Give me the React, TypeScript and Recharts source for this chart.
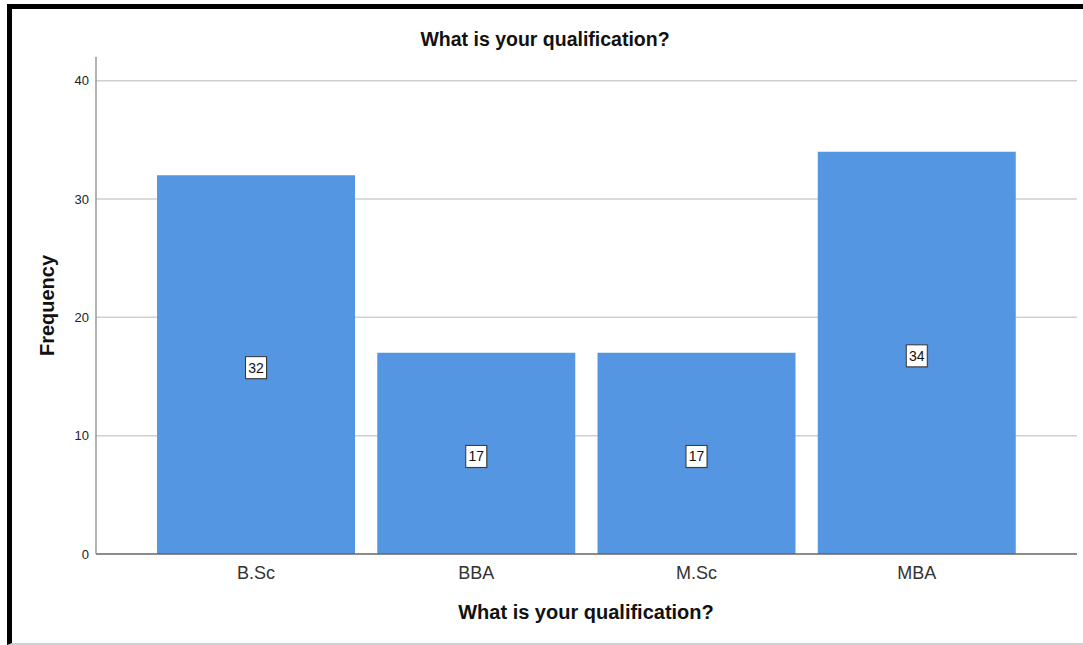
import React from 'react';
import { BarChart, Bar, XAxis, YAxis, CartesianGrid, LabelList } from 'recharts';

// Qualification frequency counts
const qualifications = ['B.Sc', 'BBA', 'M.Sc', 'MBA'];
const frequencies = [32, 17, 17, 34];
const yTicks = [0, 10, 20, 30, 40];

const data = qualifications.map((q, i) => ({ name: q, value: frequencies[i] }));

const FONT = '"Liberation Sans", Arial, sans-serif';
const BAR_COLOR = '#5596E3';

// White boxed count shown at the middle of each bar
const ValueBox = (props: any) => {
  const { x, y, width, height, value } = props;
  const cx = x + width / 2;
  const cy = y + height / 2 + 3;
  const w = 21;
  const h = 22;
  return (
    <g>
      <rect x={cx - w / 2 + 1} y={cy - h / 2 + 1} width={w} height={h} fill="#6a6a6a" opacity={0.5} />
      <rect x={cx - w / 2} y={cy - h / 2} width={w} height={h} fill="#ffffff" stroke="#333" strokeWidth={1} />
      <text x={cx} y={cy + 5} textAnchor="middle" fontSize={14} fontFamily={FONT} fill="#111">
        {value}
      </text>
    </g>
  );
};

const headingStyle: React.CSSProperties = {
  position: 'absolute',
  textAlign: 'center',
  fontFamily: FONT,
  fontWeight: 'bold',
  color: '#111',
  whiteSpace: 'nowrap',
};

export default function App() {
  return (
    <div style={{ position: 'absolute', left: 0, top: 0, width: 1083, height: 645, background: '#fff', overflow: 'hidden' }}>
      <div
        style={{
          position: 'absolute',
          left: 7,
          top: 4,
          right: 0,
          bottom: 0,
          borderTop: '5px solid #000',
          borderLeft: '5px solid #000',
          borderBottom: '2px solid #d0d0d0',
        }}
      />
      <div style={{ ...headingStyle, left: 345, width: 400, top: 28, fontSize: 19.5 }}>
        What is your qualification?
      </div>
      <div style={{ ...headingStyle, left: 386, width: 400, top: 601, fontSize: 20 }}>
        What is your qualification?
      </div>
      <div
        style={{
          ...headingStyle,
          left: 47 - 100,
          width: 200,
          top: 306 - 12,
          fontSize: 20,
          transform: 'rotate(-90deg)',
        }}
      >
        Frequency
      </div>
      <div style={{ position: 'absolute', left: 0, top: 0 }}>
        <BarChart
          width={1083}
          height={645}
          data={data}
          margin={{ top: 57, right: 6, bottom: 61, left: 56 }}
          barCategoryGap="5%"
        >
          <CartesianGrid
            vertical={false}
            horizontalValues={yTicks.slice(1)}
            stroke="#cfcfcf"
            strokeWidth={1.5}
          />
          <XAxis
            dataKey="name"
            height={30}
            padding={{ left: 50, right: 50 }}
            tickLine={false}
            axisLine={{ stroke: '#666', strokeWidth: 1.5 }}
            tick={{ fontSize: 18, fontFamily: FONT, fill: '#333' }}
            tickMargin={6}
          />
          <YAxis
            width={40}
            domain={[0, 42]}
            ticks={yTicks}
            interval={0}
            tickLine={false}
            axisLine={{ stroke: '#999', strokeWidth: 1.5 }}
            tick={{ fontSize: 13, fontFamily: FONT, fill: '#222' }}
            tickSize={4}
            tickMargin={3}
          />
          <Bar dataKey="value" fill={BAR_COLOR} isAnimationActive={false}>
            <LabelList dataKey="value" content={<ValueBox />} />
          </Bar>
        </BarChart>
      </div>
    </div>
  );
}
